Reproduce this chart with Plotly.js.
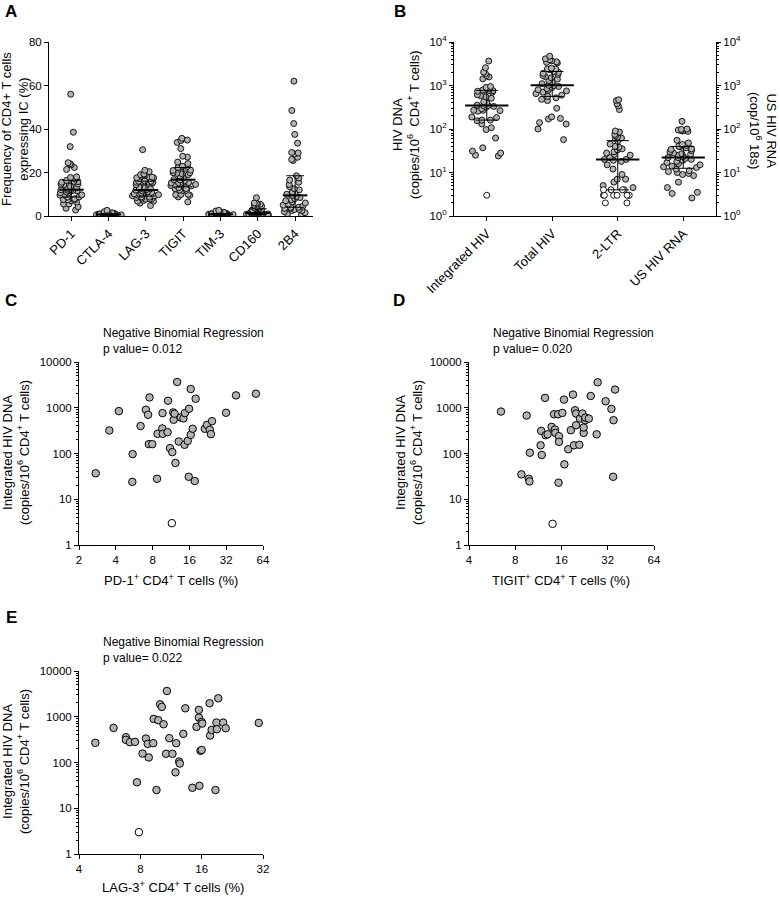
<!DOCTYPE html>
<html><head><meta charset="utf-8">
<script src="https://cdn.plot.ly/plotly-3.0.1.min.js"></script>
<style>html,body{margin:0;padding:0;background:#fff}#chart{width:780px;height:898px}</style>
</head><body><div id="chart"></div>
<script>
// ---------------- DATA ----------------
// Panel A categories
const icMarkers = ['PD-1','CTLA-4','LAG-3','TIGIT','TIM-3','CD160','2B4'];
// PD-1+ CD4+ T cells (%) paired with integrated HIV DNA (panel C)
const pd1Pct = [2.74,3.54,4.24,5.49,5.46,6.38,7.55,7.05,7.35,7.46,7.95,8.78,8.70,9.65,9.60,9.70,10.6,10.7,11.1,11.6,12.3,11.8,11.9,12.1,12.7,13.1,13.6,14.3,14.7,14.6,15.5,15.9,15.8,16.4,16.4,17.0,17.7,18.0,21.4,22.3,23.5,24.0,24.5,31.9,38.5,56.0];
const intHivC = [37,319,845,97,24,398,1683,903,703,160,160,269,28,764,353,269,293,1423,131,107,62,790,546,740,3650,183,614,584,764,155,189,950,31,2565,256,347,25,1574,347,424,330,265,510,777,1864,2027];
const pd1PctOpen = [11.5];
const intHivCOpen = [3];
// TIGIT (panel D)
const tigitPct = [6.46,9.49,8.77,9.8,9.9,9.96,11.7,11.9,11.8,12.5,12.6,13.0,13.8,14.3,14.5,14.6,15.2,15.4,15.4,16.2,15.3,16.6,16.7,17.7,18.4,19.0,19.3,19.6,19.9,19.9,20.9,21.1,21.9,22.3,22.3,22.8,22.9,24.1,24.8,27.1,27.5,31.0,33.8,34.9,35.7,34.7];
const intHivD = [825,675,35,28,24.5,104,151,93,312,1640,251,263,382,721,334,282,721,239,180,771,23,1507,58,124,323,1936,151,881,746,415,155,580,746,282,369,534,610,580,1811,263,3600,1387,944,534,2490,31];
const tigitPctOpen = [14.0];
const intHivDOpen = [2.9];
// LAG-3 (panel E)
const lag3Pct = [4.81,5.91,6.80,6.80,7.11,7.53,7.70,8.2,8.52,8.7,8.8,9.26,9.3,9.6,9.8,10.0,10.2,10.4,10.7,10.8,11.1,11.5,12.0,11.9,12.4,12.5,13.0,13.3,14.4,15.1,15.5,15.5,15.6,15.8,16.0,16.0,16.1,17.5,17.6,17.9,18.9,19.0,18.7,19.3,20.4,21.0,30.5];
const intHivE = [269,570,357,313,278,282,37,157,334,255,129,264,897,25,839,1874,1640,686,155,3660,340,155,264,61,105,95,422,1532,28,600,1410,959,31,180,188,771,709,1972,388,517,746,534,25,2535,746,561,734];
const lag3PctOpen = [7.87];
const intHivEOpen = [3];
// Other checkpoints (panel A)
const ctla4Pct = [2.6,2.0,1.8,1.6,1.5,1.4,1.3,1.2,1.2,1.1,1.0,1.0,0.9,0.9,0.9,0.8,0.8,0.8,0.7,0.7,0.7,0.7,0.6,0.6,0.6,0.6,0.5,0.5,0.5,0.5,0.4,0.4,0.4,0.3,0.3,0.3,0.2,0.2,0.2,0.1,0.1,0.1,0.9,1.1,0.6];
const tim3Pct = [2.6,2.3,2.1,1.9,1.7,1.6,1.5,1.4,1.3,1.2,1.2,1.1,1.0,1.0,1.0,0.9,0.9,0.9,0.8,0.8,0.8,0.8,0.7,0.7,0.7,0.7,0.6,0.6,0.6,0.5,0.5,0.5,0.5,0.4,0.4,0.4,0.3,0.3,0.3,0.2,0.2,0.1,1.1,0.9,0.6];
const cd160Pct = [8.4,6.0,5.8,5.6,5.4,5.0,4.6,4.2,4.0,3.7,3.5,3.3,3.0,2.8,2.6,2.4,2.2,2.0,1.9,1.8,1.6,1.5,1.4,1.3,1.2,1.1,1.0,0.9,0.9,0.8,0.7,0.7,0.6,0.5,0.5,0.4,0.4,0.3,0.3,0.2,0.2,0.1,0.1,1.2,1.0];
const b4Pct = [62,48.5,42.5,37.5,33.5,29.2,29,28.5,27,26,25.5,18.5,17.5,16.5,15.5,14.5,13.5,12.5,12,11,10.5,10,9.5,9,8.5,8,7.5,7,6.5,6,5.5,5,4.5,4,4,3.5,3.5,3,3,2.5,2.5,2,1.5,1,0.5];
// Panel B
const reservoirCats = ['Integrated HIV','Total HIV','2-LTR','US HIV RNA'];
const totalHiv = [4700,4100,3900,3700,3500,3400,3300,2500,2400,2400,2300,2100,2000,1900,1800,1700,1600,1500,1400,1300,1200,1100,1010,1000,950,900,850,800,780,750,700,650,600,560,520,480,450,300,190,175,170,140,130,100,57];
const ltr2 = [470,450,380,340,280,90,85,75,70,65,62,60,52,45,40,38,35,33,30,28,26,25,22,20,20,19,18,15,12,9,7,7,6,5,4.5,3,3];
const ltr2Open = [4,4,4,4,3,3,3,3,3,2,2];
const usRna = [150,100,98,95,92,90,88,55,48,44,42,40,39,37,35,34,32,30,28,27,26,25,23,22,22,21,20,19,18,17,16,15,14,13.5,13,12,11,10.5,10,9.5,9,8.5,6,4.5,3.5,3.3,2.6];

// ---------------- HELPERS ----------------
const W = 780, H = 898;
const fx = p => p / W, fy = p => 1 - p / H;
const FONT = 'Liberation Sans, Arial, Helvetica, sans-serif';
const GRAY = '#b3b3b3';

function quant(arr, p) {
  const s = [...arr].sort((a, b) => a - b);
  const h = (s.length - 1) * p, lo = Math.floor(h);
  const hi = Math.min(lo + 1, s.length - 1);
  return s[lo] + (s[hi] - s[lo]) * (h - lo);
}
function swarm(xa, ya, pos, vals, open, width, size) {
  return {type: 'box', orientation: 'v', x: vals.map(() => pos), y: vals, xaxis: xa, yaxis: ya,
    boxpoints: 'all', jitter: 0.95, pointpos: 0, width: width,
    fillcolor: 'rgba(0,0,0,0)', line: {color: 'rgba(0,0,0,0)', width: 0},
    marker: {size: size, color: open ? '#ffffff' : GRAY, line: {color: '#000', width: 0.9}},
    hoverinfo: 'skip', showlegend: false};
}
function single(xa, ya, pos, vals, size) {
  return {type: 'scatter', mode: 'markers', x: vals.map(() => pos), y: vals, xaxis: xa, yaxis: ya,
    marker: {size: size, color: '#ffffff', line: {color: '#000', width: 0.9}},
    hoverinfo: 'skip', showlegend: false};
}
function medIqr(xa, ya, pos, vals, mw, cw) {
  const m = quant(vals, 0.5), q1 = quant(vals, 0.25), q3 = quant(vals, 0.75);
  return [
    {type: 'scatter', mode: 'lines', x: [pos - mw, pos + mw], y: [m, m], xaxis: xa, yaxis: ya,
      line: {color: '#000', width: 2}, hoverinfo: 'skip', showlegend: false},
    {type: 'scatter', mode: 'lines', x: [pos - cw, pos + cw, null, pos, pos, null, pos - cw, pos + cw],
      y: [q1, q1, null, q1, q3, null, q3, q3], xaxis: xa, yaxis: ya,
      line: {color: '#000', width: 1}, hoverinfo: 'skip', showlegend: false}
  ];
}
function scat(xa, ya, xs, ys, open) {
  return {type: 'scatter', mode: 'markers', x: xs, y: ys, xaxis: xa, yaxis: ya,
    marker: {size: 7.5, color: open ? '#ffffff' : GRAY, line: {color: '#000', width: 1}},
    hoverinfo: 'skip', showlegend: false, cliponaxis: false};
}

// ---------------- TRACES ----------------
const traces = [];
const groupsA = [pd1Pct.concat(pd1PctOpen), ctla4Pct, lag3Pct.concat(lag3PctOpen), tigitPct.concat(tigitPctOpen), tim3Pct, cd160Pct, b4Pct];
groupsA.forEach((g, i) => traces.push(swarm('x', 'y', i, g, false, 0.8, 6)));
groupsA.forEach((g, i) => traces.push(...medIqr('x', 'y', i, g, 0.33, 0.24)));

const intAll = intHivC.concat(intHivCOpen);
traces.push(swarm('x2', 'y2', 0, intHivC, false, 0.72, 6));
traces.push(single('x2', 'y2', 0, intHivCOpen, 6));
traces.push(swarm('x2', 'y2', 1, totalHiv, false, 0.72, 6));
traces.push(swarm('x2', 'y2', 2, ltr2, false, 0.72, 6));
traces.push(swarm('x2', 'y2', 2, ltr2Open, true, 0.72, 6));
traces.push(swarm('x2', 'y3', 3, usRna, false, 0.72, 6));
traces.push(...medIqr('x2', 'y2', 0, intAll, 0.33, 0.17));
traces.push(...medIqr('x2', 'y2', 1, totalHiv, 0.33, 0.17));
traces.push(...medIqr('x2', 'y2', 2, ltr2.concat(ltr2Open), 0.33, 0.17));
traces.push(...medIqr('x2', 'y3', 3, usRna, 0.33, 0.17));

traces.push(scat('x3', 'y4', pd1Pct, intHivC, false));
traces.push(scat('x3', 'y4', pd1PctOpen, intHivCOpen, true));
traces.push(scat('x4', 'y5', tigitPct, intHivD, false));
traces.push(scat('x4', 'y5', tigitPctOpen, intHivDOpen, true));
traces.push(scat('x5', 'y6', lag3Pct, intHivE, false));
traces.push(scat('x5', 'y6', lag3PctOpen, intHivEOpen, true));

// ---------------- AXES ----------------
const tickFont = {family: FONT, size: 11.5, color: '#000'};
const base = {showline: true, linecolor: '#000', linewidth: 1, ticks: 'outside', ticklen: 4, tickwidth: 1,
  tickcolor: '#000', showgrid: false, zeroline: false, automargin: false, tickfont: tickFont, fixedrange: true};
const minorLog = [];
for (let d = 0; d < 4; d++) for (let k = 2; k <= 9; k++) minorLog.push(k * Math.pow(10, d));
const logY = (dom, ax, tt) => Object.assign({}, base, {type: 'log', range: [0, 4], domain: dom, anchor: ax,
  tickmode: 'array', tickvals: [1, 10, 100, 1000, 10000], ticktext: tt,
  minor: {tickmode: 'array', tickvals: minorLog, ticks: 'outside', ticklen: 2, tickcolor: '#000', tickwidth: 1, showgrid: false}});
const powTT = ['10<sup>0</sup>', '10<sup>1</sup>', '10<sup>2</sup>', '10<sup>3</sup>', '10<sup>4</sup>'];
const plainTT = ['1', '10', '100', '1000', '10000'];
const log2X = (dom, ax, lo, hi, vals) => Object.assign({}, base, {type: 'log', domain: dom, anchor: ax,
  range: [Math.log10(lo), Math.log10(hi)], tickmode: 'array', tickvals: vals, ticktext: vals.map(String)});

const layout = {
  width: W, height: H, margin: {l: 0, r: 0, t: 0, b: 0}, paper_bgcolor: '#fff', plot_bgcolor: 'rgba(0,0,0,0)',
  font: {family: FONT, color: '#000'}, boxmode: 'overlay', showlegend: false,
  xaxis: Object.assign({}, base, {domain: [fx(49), fx(313)], anchor: 'y', range: [-0.6, 6.48],
    tickmode: 'array', tickvals: icMarkers.map((_, i) => i), ticktext: icMarkers, tickangle: -45,
    tickfont: {family: FONT, size: 13, color: '#000'}}),
  yaxis: Object.assign({}, base, {domain: [fy(216), fy(42)], anchor: 'x', range: [0, 80],
    tickmode: 'array', tickvals: [0, 20, 40, 60, 80]}),
  xaxis2: Object.assign({}, base, {domain: [fx(454), fx(716)], anchor: 'y2', range: [-0.5, 3.5],
    tickmode: 'array', tickvals: reservoirCats.map((_, i) => i), ticktext: reservoirCats, tickangle: -45,
    tickfont: {family: FONT, size: 13, color: '#000'}}),
  yaxis2: logY([fy(216), fy(42)], 'x2', powTT),
  yaxis3: Object.assign(logY([fy(216), fy(42)], 'x2', powTT), {overlaying: 'y2', side: 'right'}),
  xaxis3: log2X([fx(79), fx(263)], 'y4', 2, 64, [2, 4, 8, 16, 32, 64]),
  yaxis4: logY([fy(545), fy(362)], 'x3', plainTT),
  xaxis4: log2X([fx(469), fx(654)], 'y5', 4, 64, [4, 8, 16, 32, 64]),
  yaxis5: logY([fy(545), fy(362)], 'x4', plainTT),
  xaxis5: log2X([fx(79), fx(263)], 'y6', 4, 32, [4, 8, 16, 32]),
  yaxis6: logY([fy(854), fy(671)], 'x5', plainTT),
  annotations: []
};

function ann(x, y, text, opt) {
  layout.annotations.push(Object.assign({xref: 'paper', yref: 'paper', x: fx(x), y: fy(y), text: text,
    showarrow: false, xanchor: 'center', yanchor: 'middle', font: {family: FONT, size: 13, color: '#000'}}, opt || {}));
}
const letterFont = {family: FONT, size: 17, color: '#000', weight: 'bold'};
ann(11, 11, '<b>A</b>', {font: letterFont});
ann(400, 11, '<b>B</b>', {font: letterFont});
ann(11, 300, '<b>C</b>', {font: letterFont});
ann(399, 300, '<b>D</b>', {font: letterFont});
ann(11, 617, '<b>E</b>', {font: letterFont});

ann(15, 129, 'Frequency of CD4+ T cells<br>expressing IC (%)', {textangle: -90});
ann(406, 125, 'HIV DNA<br>(copies/10<sup>6</sup>  CD4<sup>+</sup> T cells)', {textangle: -90});
ann(763, 130, 'US HIV RNA<br>(cop/10<sup>6</sup> 18s)', {textangle: 90});

const yT = 'Integrated HIV DNA<br>(copies/10<sup>6</sup> CD4<sup>+</sup> T cells)';
ann(16, 453, yT, {textangle: -90});
ann(409, 453, yT, {textangle: -90});
ann(16, 762, yT, {textangle: -90});

const tFont = {family: FONT, size: 12, color: '#000'};
ann(101, 341, 'Negative Binomial Regression<br>p value= 0.012', {xanchor: 'left', align: 'left', font: tFont});
ann(491, 341, 'Negative Binomial Regression<br>p value= 0.020', {xanchor: 'left', align: 'left', font: tFont});
ann(101, 650, 'Negative Binomial Regression<br>p value= 0.022', {xanchor: 'left', align: 'left', font: tFont});

ann(171, 580, 'PD-1<sup>+</sup> CD4<sup>+</sup> T cells (%)');
ann(561, 580, 'TIGIT<sup>+</sup> CD4<sup>+</sup> T cells (%)');
ann(173, 887, 'LAG-3<sup>+</sup> CD4<sup>+</sup> T cells (%)');

Plotly.newPlot('chart', traces, layout, {staticPlot: true, displayModeBar: false});
</script>
</body></html>
